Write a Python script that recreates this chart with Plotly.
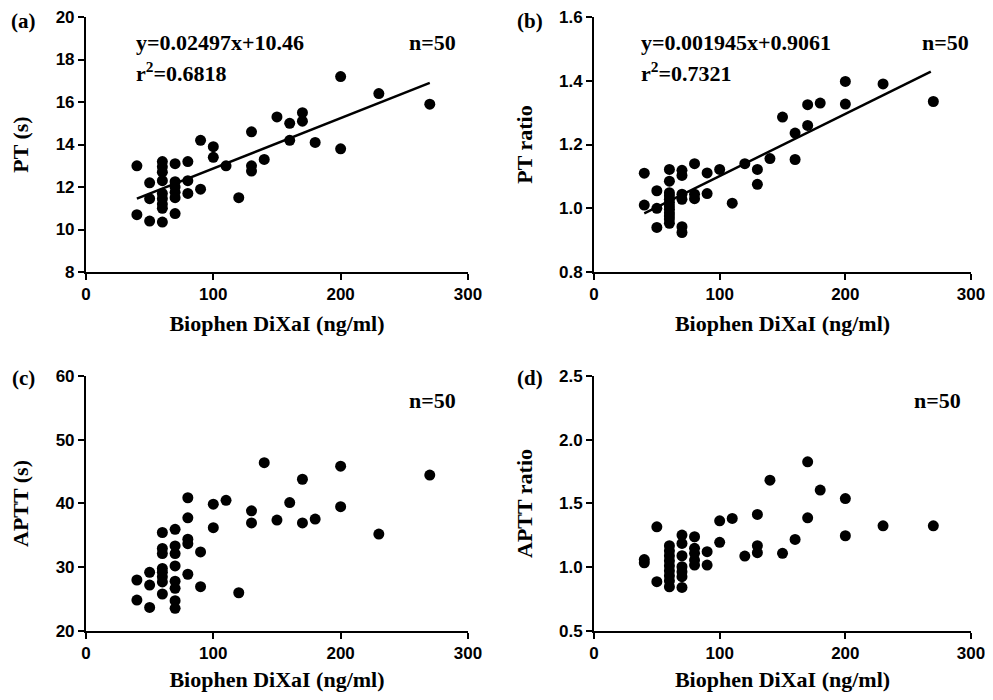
import plotly.graph_objects as go
from plotly.subplots import make_subplots

# Biophen DiXaI concentration (ng/ml) against each clotting test
# (a) PT (s)
pt_x = [40, 40, 50, 50, 50, 60, 60, 60, 60, 60, 60, 60, 60, 60,
        70, 70, 70, 70, 70, 70, 80, 80, 80, 90, 90, 100, 100, 110, 120,
        130, 130, 130, 140, 150, 160, 160, 170, 170, 180, 200, 200, 230, 270]
pt_y = [13.0, 10.7, 12.2, 11.45, 10.4, 13.2, 12.95, 12.7, 12.3, 11.7, 11.45, 11.2, 11.0, 10.35,
        13.1, 12.25, 12.0, 11.75, 11.5, 10.75, 13.2, 12.3, 11.7, 14.2, 11.9, 13.9, 13.4, 13.0, 11.5,
        14.6, 13.0, 12.75, 13.3, 15.3, 15.0, 14.2, 15.5, 15.1, 14.1, 17.2, 13.8, 16.4, 15.9]
pt_fit_x = [40, 270]
pt_fit_y = [11.45, 16.9]

# (b) PT ratio
ptr_x = [40, 40, 50, 50, 50, 60, 60, 60, 60, 60, 60, 60, 60, 60, 60, 60, 60,
         70, 70, 70, 70, 70, 70, 80, 80, 80, 90, 90, 100, 110, 120, 130, 130,
         140, 150, 160, 160, 170, 170, 180, 200, 200, 230, 270]
ptr_y = [1.11, 1.01, 1.055, 1.0, 0.94, 1.122, 1.085, 1.049, 1.039, 1.028, 1.018, 1.007, 0.997, 0.986, 0.976, 0.966, 0.953,
         1.119, 1.103, 1.044, 1.028, 0.942, 0.924, 1.14, 1.044, 1.03, 1.111, 1.046, 1.122, 1.016, 1.14, 1.122, 1.075,
         1.156, 1.286, 1.236, 1.153, 1.325, 1.26, 1.33, 1.398, 1.327, 1.39, 1.335]
ptr_fit_x = [40, 268]
ptr_fit_y = [0.984, 1.429]

# (c) APTT (s)
aptt_x = [40, 40, 50, 50, 50, 60, 60, 60, 60, 60, 60, 60, 60,
          70, 70, 70, 70, 70, 70, 70, 70, 80, 80, 80, 80, 80, 90, 90, 100, 100,
          110, 120, 130, 130, 140, 150, 160, 170, 170, 180, 200, 200, 230, 270]
aptt_y = [28.0, 24.85, 29.2, 27.2, 23.7, 35.45, 32.95, 32.15, 29.8, 29.2, 28.5, 27.7, 25.8,
          35.95, 33.35, 32.15, 30.2, 27.8, 26.7, 24.75, 23.55, 40.9, 37.75, 34.4, 33.7, 28.9, 32.4, 26.95, 39.9, 36.2,
          40.5, 26.0, 38.85, 36.95, 46.4, 37.4, 40.15, 43.8, 36.95, 37.55, 45.85, 39.5, 35.2, 44.45]

# (d) APTT ratio
apttr_x = [40, 40, 50, 50, 60, 60, 60, 60, 60, 60, 60, 60, 60,
           70, 70, 70, 70, 70, 70, 70, 80, 80, 80, 80, 80, 90, 90, 100, 100,
           110, 120, 130, 130, 130, 140, 150, 160, 170, 170, 180, 200, 200, 230, 270]
apttr_y = [1.06, 1.035, 1.317, 0.887, 1.169, 1.129, 1.09, 1.051, 1.012, 0.973, 0.934, 0.894, 0.847,
           1.252, 1.187, 1.09, 1.004, 0.965, 0.926, 0.842, 1.239, 1.148, 1.109, 1.056, 1.017, 1.122, 1.017, 1.364, 1.195,
           1.383, 1.088, 1.414, 1.169, 1.114, 1.683, 1.109, 1.218, 1.827, 1.388, 1.605, 1.539, 1.247, 1.325, 1.325]

x_title = "Biophen DiXaI (ng/ml)"
y_titles = ["PT (s)", "PT ratio", "APTT (s)", "APTT ratio"]
y_ranges = [[8, 20], [0.8, 1.6], [20, 60], [0.5, 2.5]]
y_dticks = [2, 0.2, 10, 0.5]
y_formats = ["d", ".1f", "d", ".1f"]
y_standoffs = [25, 20, 25, 20]

SERIF = "Liberation Serif"
SANS = "Liberation Sans"

# page body has an 8px margin, so the figure is sized to fit the 993x700 window
W, H = 977, 684

fig = make_subplots(rows=2, cols=2)

scatter_sets = [(pt_x, pt_y, 1, 1), (ptr_x, ptr_y, 1, 2), (aptt_x, aptt_y, 2, 1), (apttr_x, apttr_y, 2, 2)]
for xs, ys, r, c in scatter_sets:
    fig.add_trace(go.Scatter(x=xs, y=ys, mode="markers",
                             marker=dict(color="black", size=11),
                             showlegend=False), row=r, col=c)

fig.add_trace(go.Scatter(x=pt_fit_x, y=pt_fit_y, mode="lines",
                         line=dict(color="black", width=2.5), showlegend=False), row=1, col=1)
fig.add_trace(go.Scatter(x=ptr_fit_x, y=ptr_fit_y, mode="lines",
                         line=dict(color="black", width=2.5), showlegend=False), row=1, col=2)

# panel placement in paper coords
x_domains = [[0.0798, 0.4708], [0.5998, 0.9857]]
y_domains = [[0.6140, 0.9868], [0.0892, 0.4620]]

for i in range(4):
    r, c = divmod(i, 2)
    fig.update_xaxes(domain=x_domains[c], range=[0, 300], tickvals=[0, 100, 200, 300],
                     automargin=False, ticklabeloverflow="allow",
                     showline=True, linecolor="black", linewidth=2, mirror=False,
                     ticks="outside", ticklen=6, tickwidth=2, tickcolor="black",
                     showgrid=False, zeroline=False,
                     tickfont=dict(family=SANS, size=17, color="black", weight="bold"),
                     title=dict(text=x_title, standoff=12,
                                font=dict(family=SERIF, size=22, color="black", weight="bold")),
                     row=r + 1, col=c + 1)
    fig.update_yaxes(domain=y_domains[r], range=y_ranges[i], dtick=y_dticks[i], tick0=y_ranges[i][0],
                     tickformat=y_formats[i], automargin=False, ticklabeloverflow="allow",
                     showline=True, linecolor="black", linewidth=2,
                     ticks="outside", ticklen=6, tickwidth=2, tickcolor="black",
                     showgrid=False, zeroline=False,
                     tickfont=dict(family=SANS, size=17, color="black", weight="bold"),
                     title=dict(text=y_titles[i], standoff=y_standoffs[i],
                                font=dict(family=SERIF, size=22, color="black", weight="bold")),
                     row=r + 1, col=c + 1)

ann_font = dict(family=SERIF, size=22, color="black", weight="bold")
annotations = [
    dict(xref="x", yref="y", x=38, y=18.8, text="y=0.02497x+10.46", xanchor="left"),
    dict(xref="x", yref="y", x=38, y=17.4, text="r<sup>2</sup>=0.6818", xanchor="left"),
    dict(xref="x", yref="y", x=272, y=18.8, text="n=50", xanchor="center"),
    dict(xref="x2", yref="y2", x=36, y=1.52, text="y=0.001945x+0.9061", xanchor="left"),
    dict(xref="x2", yref="y2", x=36, y=1.428, text="r<sup>2</sup>=0.7321", xanchor="left"),
    dict(xref="x2", yref="y2", x=280, y=1.52, text="n=50", xanchor="center"),
    dict(xref="x3", yref="y3", x=272, y=56.1, text="n=50", xanchor="center"),
    dict(xref="x4", yref="y4", x=273, y=2.31, text="n=50", xanchor="center"),
]
for a in annotations:
    a.update(showarrow=False, yanchor="middle", font=ann_font)

panel_font = dict(family=SERIF, size=21, color="black", weight="bold")
for lbl, px, py in [("(a)", 0.0154, 0.9817), ("(b)", 0.5343, 0.9817), ("(c)", 0.0154, 0.459), ("(d)", 0.5343, 0.459)]:
    annotations.append(dict(xref="paper", yref="paper", x=px, y=py, text=lbl, showarrow=False,
                            xanchor="center", yanchor="middle", font=panel_font))

fig.update_layout(width=W, height=H, margin=dict(l=0, r=0, t=0, b=0),
                  plot_bgcolor="white", paper_bgcolor="white",
                  annotations=annotations)

fig.write_html("out.html")
